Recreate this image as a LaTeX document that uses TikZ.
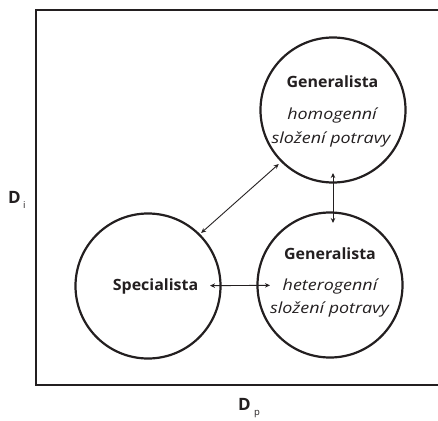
\documentclass[tikz,border=0pt]{standalone}
\usepackage{fontspec}
\setmainfont{Open Sans}
\newfontfamily\titlefont{Open Sans}[FakeStretch=1.03]
\newfontfamily\dietfont{Open Sans}[FakeStretch=1.17]
\usetikzlibrary{arrows.meta}
\definecolor{ink}{HTML}{231F20}
\begin{document}
\begin{tikzpicture}[x=1pt,y=-1pt,
  every node/.style={text=ink},
  group/.style={circle, draw=ink, line width=2.2pt, minimum size=145pt, inner sep=0pt},
  title/.style={font=\titlefont\bfseries\fontsize{15.5}{18}\selectfont, anchor=base},
  diet/.style={font=\dietfont\itshape\fontsize{15.3}{18}\selectfont, anchor=base},
  link/.style={draw=ink, line width=0.9pt,
    {Stealth[length=5pt,width=4.5pt]}-{Stealth[length=5pt,width=4.5pt]}},
  axis/.style={font=\bfseries\fontsize{17}{20}\selectfont, anchor=base west, inner sep=0pt},
  sub/.style={font=\fontsize{9.5}{10}\selectfont, anchor=base west, inner sep=0pt}
]
\useasboundingbox (0,0) rectangle (438,420);
\clip (0,0) rectangle (438,420);

% frame of the niche space, open to the right
\draw[ink, line width=2.6pt] (445,10) -- (36,10) -- (36,385) -- (445,385);

% the three strategies
\node[group] (gen-hom) at (333,110) {};
\node[group] (gen-het) at (330,285) {};
\node[group] (spec) at (148,286) {};

\node[title] (t-hom) at (332.5,87) {Generalista};
\node[diet] (d-hom-a) at (332,119) {homogenní};
\node[diet] (d-hom-b) at (331,143) {složení potravy};

\node[title] (t-het) at (330,259) {Generalista};
\node[diet] (d-het-a) at (330,290) {heterogenní};
\node[diet] (d-het-b) at (329.5,313) {složení potravy};

\node[title] (t-spec) at (155.5,290) {Specialista};

% transitions between strategies
\draw[link, shorten <=1.5pt, shorten >=3pt] (spec.45) -- (gen-hom.225);
\draw[link, shorten <=-11.6pt, shorten >=-13.6pt] (spec) -- (gen-het);
\draw[link, shorten <=-10.6pt, shorten >=-11.6pt] (gen-hom.south) -- (gen-hom.south |- gen-het.north);

% axis labels
\node[axis] (di) at (8,203) {D};
\node[sub] (di-sub) at (23,208) {i};
\node[axis] (dp) at (238,410) {D};
\node[sub] (dp-sub) at (254,415) {p};
\end{tikzpicture}
\end{document}
